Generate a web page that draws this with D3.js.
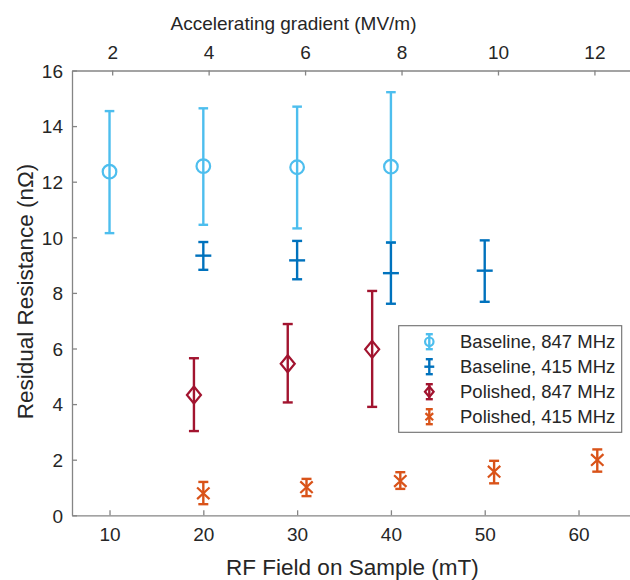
<!DOCTYPE html>
<html>
<head>
<meta charset="utf-8">
<script src="https://cdn.jsdelivr.net/npm/d3@7"></script>
<style>
  html, body { margin: 0; padding: 0; background: #fff; }
  svg { display: block; font-family: "Liberation Sans", Arial, Helvetica, sans-serif; }
</style>
</head>
<body>
<svg id="chart" width="630" height="580"></svg>
<script>
// ---- Data ----
const xTicks = [10, 20, 30, 40, 50, 60];
const yTicks = [0, 2, 4, 6, 8, 10, 12, 14, 16];
const topTicks = [2, 4, 6, 8, 10, 12];
const gradientPerField = 0.1945; // MV/m per mT

const seriesNames = ["Baseline, 847 MHz", "Baseline, 415 MHz", "Polished, 847 MHz", "Polished, 415 MHz"];

const b847X = [10, 20, 30, 40];
const b847Y = [12.36, 12.56, 12.52, 12.54];
const b847Lo = [10.15, 10.45, 10.32, 9.82];
const b847Hi = [14.54, 14.64, 14.70, 15.22];

const b415X = [20, 30, 40, 50];
const b415Y = [9.34, 9.17, 8.71, 8.80];
const b415Lo = [8.83, 8.49, 7.61, 7.68];
const b415Hi = [9.83, 9.87, 9.81, 9.89];

const p847X = [19, 29, 38];
const p847Y = [4.33, 5.45, 5.97];
const p847Lo = [3.03, 4.06, 3.90];
const p847Hi = [5.65, 6.88, 8.07];

const p415X = [20, 31, 41, 51, 62];
const p415Y = [0.79, 1.01, 1.23, 1.57, 1.99];
const p415Lo = [0.40, 0.69, 0.95, 1.15, 1.57];
const p415Hi = [1.20, 1.31, 1.55, 1.96, 2.37];

// ---- Layout ----
const svg = d3.select("#chart");
const L = 72, T = 70.5, B = 515.3, R = 634.8;
const axisColor = "#858585";
const textColor = "#262626";

const x = d3.scaleLinear().domain([6, 66]).range([L, R]);
const xTop = d3.scaleLinear().domain([6 * gradientPerField, 66 * gradientPerField]).range([L, R]);
const y = d3.scaleLinear().domain([0, 16]).range([B, T]);

const series = [
  { name: seriesNames[0], xs: b847X, ys: b847Y, lo: b847Lo, hi: b847Hi, color: "#4DBEEE", marker: "circle", cap: 4.8 },
  { name: seriesNames[1], xs: b415X, ys: b415Y, lo: b415Lo, hi: b415Hi, color: "#0072BD", marker: "hbar", cap: 5 },
  { name: seriesNames[2], xs: p847X, ys: p847Y, lo: p847Lo, hi: p847Hi, color: "#A2142F", marker: "diamond", cap: 5 },
  { name: seriesNames[3], xs: p415X, ys: p415Y, lo: p415Lo, hi: p415Hi, color: "#D95319", marker: "x", cap: 5 }
];

function drawMarker(g, type, cx, cy, color, scale) {
  const s = scale || 1;
  if (type === "circle") {
    g.append("circle").attr("cx", cx).attr("cy", cy).attr("r", 6.8 * s)
      .attr("fill", "none").attr("stroke", color).attr("stroke-width", 2.2);
  } else if (type === "hbar") {
    g.append("line").attr("x1", cx - 8 * s).attr("x2", cx + 8 * s).attr("y1", cy).attr("y2", cy)
      .attr("stroke", color).attr("stroke-width", 2.4);
  } else if (type === "diamond") {
    const w = 7 * s, h = 8.5 * s;
    g.append("path").attr("d", `M${cx},${cy - h}L${cx + w},${cy}L${cx},${cy + h}L${cx - w},${cy}Z`)
      .attr("fill", "none").attr("stroke", color).attr("stroke-width", 2.2);
  } else if (type === "x") {
    const w = 6.2 * s, h = 5.8 * s;
    g.append("path").attr("d", `M${cx - w},${cy - h}L${cx + w},${cy + h}M${cx - w},${cy + h}L${cx + w},${cy - h}`)
      .attr("fill", "none").attr("stroke", color).attr("stroke-width", 2.2);
  }
}

function drawErrorBar(g, cx, yLo, yHi, color, cap) {
  g.append("line").attr("x1", cx).attr("x2", cx).attr("y1", yLo).attr("y2", yHi)
    .attr("stroke", color).attr("stroke-width", 2.4);
  [yLo, yHi].forEach(v => {
    g.append("line").attr("x1", cx - cap).attr("x2", cx + cap).attr("y1", v).attr("y2", v)
      .attr("stroke", color).attr("stroke-width", 2.4);
  });
}

// ---- Axes ----
const tickLen = 5;
// bottom axis
const gx = svg.append("g").attr("transform", `translate(0,${B})`)
  .call(d3.axisBottom(x).tickValues(xTicks).tickSizeInner(-tickLen).tickSizeOuter(0).tickPadding(12));
// top axis
const gt = svg.append("g").attr("transform", `translate(0,${T})`)
  .call(d3.axisTop(xTop).tickValues(topTicks).tickFormat(d3.format("d")).tickSizeInner(-tickLen).tickSizeOuter(0).tickPadding(12));
// left axis
const gy = svg.append("g").attr("transform", `translate(${L},0)`)
  .call(d3.axisLeft(y).tickValues(yTicks).tickSizeInner(-tickLen).tickSizeOuter(0).tickPadding(9));

[gx, gt, gy].forEach(g => {
  g.select(".domain").attr("stroke", axisColor).attr("stroke-width", 1.3);
  g.selectAll(".tick line").attr("stroke", axisColor).attr("stroke-width", 1.3);
  g.selectAll(".tick text").attr("fill", textColor).style("font-size", "19px")
    .style("font-family", "'Liberation Sans', Arial, Helvetica, sans-serif");
});
gy.selectAll(".tick text").attr("dy", "0.36em");

// axis titles
svg.append("text").attr("x", (L + R) / 2 - 1).attr("y", 575).attr("text-anchor", "middle")
  .attr("fill", textColor).style("font-size", "22.5px").text("RF Field on Sample (mT)");
svg.append("text").attr("x", 293.5).attr("y", 30).attr("text-anchor", "middle")
  .attr("fill", textColor).style("font-size", "19px").text("Accelerating gradient (MV/m)");
svg.append("text").attr("transform", `translate(33,${(163 + 420) / 2}) rotate(-90)`)
  .attr("text-anchor", "middle").attr("fill", textColor).style("font-size", "22.5px")
  .text("Residual Resistance (nΩ)");

// ---- Data marks ----
const plot = svg.append("g");
series.forEach(s => {
  const g = plot.append("g");
  s.xs.forEach((xv, i) => {
    const cx = x(xv);
    drawErrorBar(g, cx, y(s.lo[i]), y(s.hi[i]), s.color, s.cap);
    drawMarker(g, s.marker, cx, y(s.ys[i]), s.color, 1);
  });
});

// ---- Legend ----
const lg = svg.append("g");
const lgX = 398.7, lgY = 325.7, lgW = 223, lgH = 106.6;
lg.append("rect").attr("x", lgX).attr("y", lgY).attr("width", lgW).attr("height", lgH)
  .attr("fill", "#fff").attr("stroke", "#6e6e6e").attr("stroke-width", 1.1);
series.forEach((s, i) => {
  const cy = 341.7 + i * 25;
  const cx = 429.3;
  const g = lg.append("g");
  drawErrorBar(g, cx, cy + 7.5, cy - 7.5, s.color, 3.5);
  drawMarker(g, s.marker, cx, cy, s.color, 0.62);
  lg.append("text").attr("x", 460).attr("y", cy).attr("dy", "0.36em")
    .attr("fill", textColor).style("font-size", "18.5px").text(s.name);
});
</script>
</body>
</html>
